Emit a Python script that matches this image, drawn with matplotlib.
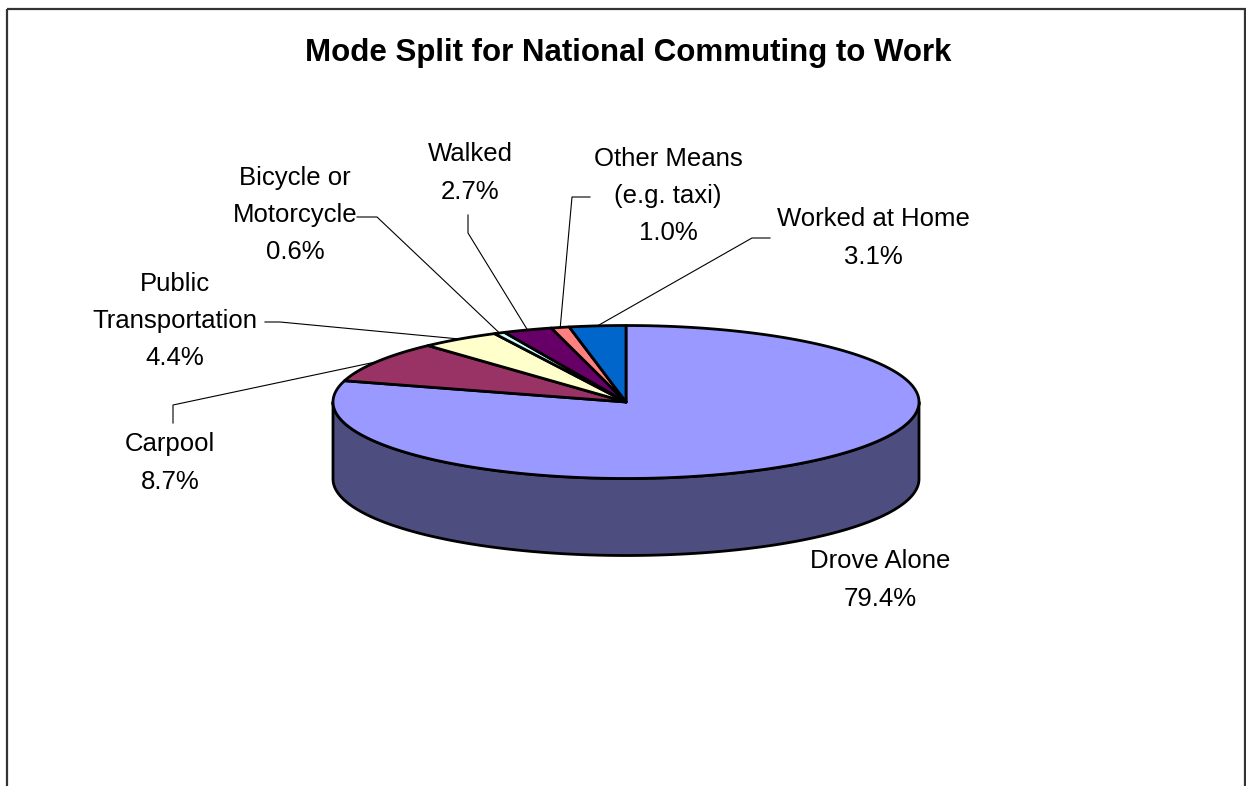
import numpy as np
import matplotlib
matplotlib.use("Agg")
import matplotlib.pyplot as plt
from matplotlib.patches import Polygon, Rectangle

# Commuting mode shares (percent), clockwise from 12 o'clock
modes = ["Drove Alone", "Carpool", "Public\nTransportation", "Bicycle or\nMotorcycle",
         "Walked", "Other Means\n(e.g. taxi)", "Worked at Home"]
shares = [79.4, 8.7, 4.4, 0.6, 2.7, 1.0, 3.1]
top_colors = ["#9999FF", "#993366", "#FFFFCC", "#CCFFFF", "#660066", "#FF8080", "#0066CC"]
side_colors = ["#4D4D80", "#4D1A33", "#808066", "#668080", "#330033", "#804040", "#003366"]
title = "Mode Split for National Commuting to Work"

plt.rcParams["font.family"] = ["Liberation Sans", "DejaVu Sans"]

W, H = 1246, 786
fig = plt.figure(figsize=(W / 100, H / 100), dpi=100)
ax = fig.add_axes([0, 0, 1, 1])
ax.set_xlim(0, W)
ax.set_ylim(H, 0)
ax.axis("off")

# chart frame (bottom edge runs off the canvas)
ax.add_patch(Rectangle((7, 9), 1237.5, 820, fill=False, edgecolor="#333333", lw=1.6))

ax.text(628, 53, title, ha="center", va="center", fontsize=22.5, fontweight="bold")

# projected pie geometry
cx, cy, rx, ry, depth = 626, 402, 293, 76.5, 77


def rim(phi, dy=0.0):
    p = np.radians(phi)
    return np.column_stack([cx + rx * np.sin(p), cy - ry * np.cos(p) + dy])


vals = np.array(shares)
bounds = np.concatenate([[0], np.cumsum(vals)]) / vals.sum() * 360.0
edge_kw = dict(edgecolor="black", lw=2.0, joinstyle="round")

# front walls (visible between 90 and 270 degrees)
for i in range(len(vals)):
    a0, a1 = max(bounds[i], 90.0), min(bounds[i + 1], 270.0)
    if a1 <= a0:
        continue
    t = np.linspace(a0, a1, 200)
    pts = np.vstack([rim(t), rim(t[::-1], depth)])
    ax.add_patch(Polygon(pts, closed=True, facecolor=side_colors[i], **edge_kw))

# top faces
for i in range(len(vals)):
    t = np.linspace(bounds[i], bounds[i + 1], max(int((bounds[i + 1] - bounds[i]) * 2), 4))
    pts = np.vstack([[[cx, cy]], rim(t)])
    ax.add_patch(Polygon(pts, closed=True, facecolor=top_colors[i], **edge_kw))

# label placement: text centre and leader elbow points
layout = {
    "Drove Alone": ((880, 580), None),
    "Carpool": ((170, 463), [(173, 423), (173, 405)]),
    "Public\nTransportation": ((175, 321), [(265, 322), (280, 322)]),
    "Bicycle or\nMotorcycle": ((295, 215), [(357, 217), (377, 217)]),
    "Walked": ((470, 173), [(468, 215), (468, 233)]),
    "Other Means\n(e.g. taxi)": ((668, 196), [(590, 197), (572, 197)]),
    "Worked at Home": ((873, 238), [(770, 238), (752, 238)]),
}

for i, name in enumerate(modes):
    (tx, ty), elbow = layout[name]
    ax.text(tx, ty, f"{name}\n{shares[i]:.1f}%", ha="center", va="center",
            fontsize=18.5, linespacing=1.7, color="black")
    if elbow is not None:
        mid = rim(np.array([(bounds[i] + bounds[i + 1]) / 2]))[0]
        xs = [p[0] for p in elbow] + [mid[0]]
        ys = [p[1] for p in elbow] + [mid[1]]
        ax.plot(xs, ys, color="black", lw=0.8)

fig.savefig("out.png", dpi=100, facecolor="white")
